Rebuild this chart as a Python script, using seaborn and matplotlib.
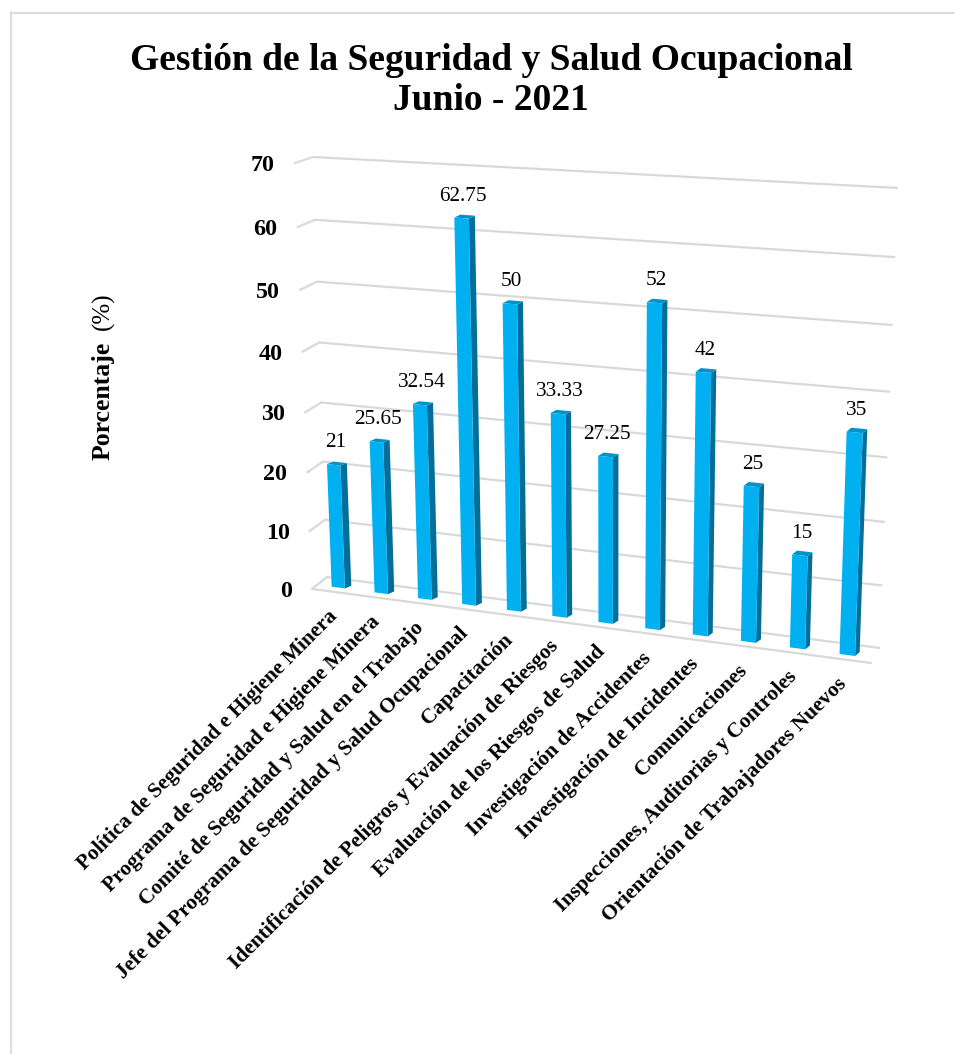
import numpy as np
import matplotlib
matplotlib.use("Agg")
import matplotlib.pyplot as plt
from matplotlib.lines import Line2D
from matplotlib.patches import Polygon
from matplotlib.transforms import Transform, IdentityTransform, Affine2D
import seaborn as sns

categories = ["Política de Seguridad e Higiene Minera",
              "Programa de Seguridad e Higiene Minera",
              "Comité de Seguridad y Salud en el Trabajo",
              "Jefe del Programa de Seguridad y Salud Ocupacional",
              "Capacitación",
              "Identificación de Peligros y Evaluación de Riesgos",
              "Evaluación de los Riesgos de Salud",
              "Investigación de Accidentes",
              "Investigación de Incidentes",
              "Comunicaciones",
              "Inspecciones, Auditorias y Controles",
              "Orientación de Trabajadores Nuevos"]
values = [21, 25.65, 32.54, 62.75, 50, 33.33, 27.25, 52, 42, 25, 15, 35]
value_labels = ["21", "25.65", "32.54", "62.75", "50", "33.33", "27.25", "52", "42", "25", "15", "35"]
y_ticks = [0, 10, 20, 30, 40, 50, 60, 70]
title = "Gestión de la Seguridad y Salud Ocupacional\nJunio - 2021"

W, H = 955, 1054
sns.set_theme(style="white")
plt.rcParams["font.family"] = ["Liberation Serif", "DejaVu Serif"]


class Homography(Transform):
    """Maps a data rectangle on to a quadrilateral given in image pixels."""
    input_dims = 2
    output_dims = 2
    is_separable = False
    has_inverse = False

    def __init__(self, src, dst):
        super().__init__()
        A, b = [], []
        for (x, y), (u, v) in zip(src, dst):
            v = H - v
            A.append([x, y, 1, 0, 0, 0, -u * x, -u * y]); b.append(u)
            A.append([0, 0, 0, x, y, 1, -v * x, -v * y]); b.append(v)
        self.m = np.append(np.linalg.solve(np.array(A, float), np.array(b, float)), 1).reshape(3, 3)

    def transform_non_affine(self, values):
        pts = np.asarray(values, float)
        homog = np.column_stack([pts, np.ones(len(pts))]) @ self.m.T
        return homog[:, :2] / homog[:, 2:3]


src = [(-0.5, 0), (11.5, 0), (11.5, 70), (-0.5, 70)]
front = Homography(src, [(317, 584.7), (872.5, 658.3), (889.3, 197.3), (300, 160.7)])
rear = Homography(src, [(323.5, 582.2), (877, 654.3), (893.8, 193.3), (306.5, 158.2)])
wall_src = [(0, 0), (1, 0), (1, 70), (0, 70)]
wall = Homography(wall_src, [(327, 577), (880, 648), (898, 188), (313, 157)])
front_edge = Homography(wall_src, [(312, 589), (871, 663), (889, 203), (295, 163)])

fig = plt.figure(figsize=(W / 100, H / 100), dpi=100, facecolor="white")
ax = fig.add_axes([0, 0, 1, 1])
ax.set_axis_off()

sns.barplot(x=categories, y=values, color="#00B0F0", saturation=1, width=0.31, ax=ax, zorder=4)
for p in ax.patches:
    p.set_transform(front)
    p.set_linewidth(0)

grid_color = "#D9D9D9"
for t in y_ticks:
    ax.plot([0, 1], [t, t], color=grid_color, lw=1.6, transform=wall, zorder=1, solid_capstyle="butt")
    a = front_edge.transform([(0, t)])[0]
    b = wall.transform([(0, t)])[0]
    ax.plot([a[0], b[0]], [a[1], b[1]], color=grid_color, lw=1.6, transform=IdentityTransform(), zorder=1)
    ax.text(0, t, str(t), transform=front_edge + Affine2D().translate(-20, -2.5), ha="right", va="center",
            fontsize=17.3, fontweight="bold", color="black")
ax.plot([0, 1], [0, 0], color=grid_color, lw=1.6, transform=front_edge, zorder=1)

half = 0.31 / 2
for i, v in enumerate(values):
    fr = front.transform([(i + half, 0), (i + half, v), (i - half, v)])
    re = rear.transform([(i + half, 0), (i + half, v), (i - half, v)])
    ax.add_patch(Polygon([fr[0], fr[1], re[1], re[0]], closed=True, transform=IdentityTransform(),
                         facecolor="#006F9A", lw=0, zorder=3))
    ax.add_patch(Polygon([fr[2], fr[1], re[1], re[2]], closed=True, transform=IdentityTransform(),
                         facecolor="#0092C8", lw=0, zorder=3))
    ax.text(i, v, value_labels[i], transform=front + Affine2D().translate(1.5, 22), ha="center", va="center",
            fontsize=15.3, color="black", zorder=6)
    ax.text(i, 0, categories[i], transform=front + Affine2D().translate(-4, -26), ha="right", va="center",
            rotation=45, rotation_mode="anchor", fontsize=15.4, fontweight="bold", color="black", zorder=6)

fig.text(491 / W, 1 - 80.5 / H, title, ha="center", va="center", fontsize=27, fontweight="bold",
         color="black", linespacing=1.17)
fig.text(103 / W, 1 - 460 / H, "Porcentaje", rotation=90, ha="center", va="bottom", fontsize=18.5,
         fontweight="bold", color="black")
fig.text(103 / W, 1 - 330 / H, "(%)", rotation=90, ha="center", va="bottom", fontsize=18, color="black")

border = "#DDDDDD"
fig.add_artist(Line2D([11 / W, 11 / W], [0, 1 - 12 / H], color=border, lw=1.5, transform=fig.transFigure))
fig.add_artist(Line2D([11 / W, 1], [1 - 13 / H, 1 - 13 / H], color=border, lw=1.5, transform=fig.transFigure))

fig.savefig("out.png", dpi=100, facecolor="white")
